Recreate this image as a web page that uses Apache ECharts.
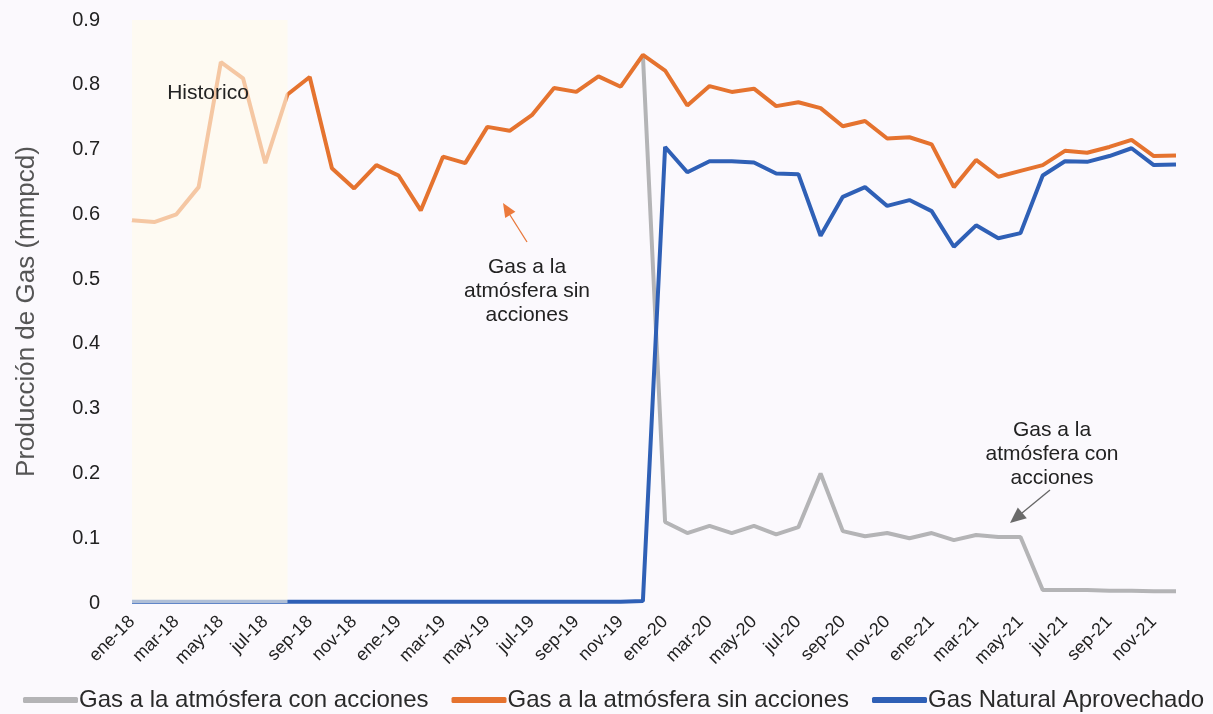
<!DOCTYPE html>
<html>
<head>
<meta charset="utf-8">
<script src="https://cdn.jsdelivr.net/npm/echarts@6/dist/echarts.min.js"></script>
<style>
html,body{margin:0;padding:0;background:#fbf9fd;}
#chart{width:1213px;height:714px;}
</style>
</head>
<body>
<div id="chart"></div>
<script>
var monthNames = ['ene','feb','mar','abr','may','jun','jul','ago','sep','oct','nov','dic'];
var years = ['18','19','20','21'];
var categories = [];
years.forEach(function(y){ monthNames.forEach(function(m){ categories.push(m + '-' + y); }); });

var yTicks = [0, 0.1, 0.2, 0.3, 0.4, 0.5, 0.6, 0.7, 0.8, 0.9];

var sinAcciones = [
  0.591, 0.588, 0.600, 0.642, 0.835, 0.810, 0.679, 0.785, 0.812, 0.671, 0.640, 0.676,
  0.660, 0.606, 0.689, 0.679, 0.735, 0.729, 0.753, 0.795, 0.789, 0.813, 0.797, 0.846,
  0.822, 0.768, 0.798, 0.789, 0.794, 0.767, 0.773, 0.764, 0.736, 0.744, 0.717, 0.719,
  0.708, 0.642, 0.684, 0.658, 0.667, 0.676, 0.698, 0.695, 0.704, 0.715, 0.690, 0.691
];
var aprovechado = [
  0.002, 0.002, 0.002, 0.002, 0.002, 0.002, 0.002, 0.002, 0.002, 0.002, 0.002, 0.002,
  0.002, 0.002, 0.002, 0.002, 0.002, 0.002, 0.002, 0.002, 0.002, 0.002, 0.002, 0.003,
  0.704, 0.665, 0.682, 0.682, 0.680, 0.663, 0.662, 0.567, 0.627, 0.642, 0.613, 0.622,
  0.605, 0.550, 0.583, 0.563, 0.571, 0.660, 0.682, 0.681, 0.690, 0.702, 0.676, 0.677
];
var conAcciones = [
  null, null, null, null, null, null, null, null, null, null, null, null,
  null, null, null, null, null, null, null, null, null, null, null, 0.846,
  0.125, 0.108, 0.119, 0.108, 0.119, 0.106, 0.117, 0.200, 0.111, 0.103, 0.108, 0.100,
  0.108, 0.097, 0.105, 0.102, 0.102, 0.020, 0.020, 0.020, 0.019, 0.019, 0.018, 0.018
];
var historicRange = ['ene-18', 'ago-18'];

var FONT = '"Liberation Sans", Arial, sans-serif';
var chart = echarts.init(document.getElementById('chart'));
chart.setOption({
  backgroundColor: '#fbf9fd',
  animation: false,
  textStyle: { fontFamily: FONT },
  grid: { left: 132, right: 37, top: 20, bottom: 111 },
  legend: {
    data: ['Gas a la atmósfera con acciones', 'Gas a la atmósfera sin acciones', 'Gas Natural Aprovechado'],
    left: 18, top: 683,
    icon: 'roundRect', itemWidth: 55, itemHeight: 6, itemGap: 23,
    textStyle: { fontSize: 24, color: '#2a2a2a', fontFamily: FONT, padding: [0,0,0,-4] }
  },
  xAxis: {
    type: 'category', data: categories, boundaryGap: false,
    axisLine: { show: false }, axisTick: { show: false },
    axisLabel: { interval: 1, rotate: 45, fontSize: 18, color: '#222', margin: 16, fontFamily: FONT }
  },
  yAxis: {
    type: 'value', min: 0, max: 0.9, interval: 0.1,
    splitLine: { show: false }, axisLine: { show: false }, axisTick: { show: false },
    axisLabel: { fontSize: 20, color: '#222', margin: 32, fontFamily: FONT,
      formatter: function(v){ return v === 0 ? '0' : v.toFixed(1); } },
    name: 'Producción de Gas (mmpcd)', nameLocation: 'middle', nameGap: 92,
    nameTextStyle: { fontSize: 26, color: '#555', fontFamily: FONT }
  },
  series: [
    { name: 'Gas a la atmósfera con acciones', type: 'line', data: conAcciones,
      showSymbol: false, lineStyle: { width: 4, color: '#b4b4b6' }, itemStyle: { color: '#b4b4b6' }, z: 2 },
    { name: 'Gas a la atmósfera sin acciones', type: 'line', data: sinAcciones,
      showSymbol: false, lineStyle: { width: 4, color: '#e5732f' }, itemStyle: { color: '#e5732f' }, z: 3 },
    { name: 'Gas Natural Aprovechado', type: 'line', data: aprovechado,
      showSymbol: false, lineStyle: { width: 4, color: '#2f60b6' }, itemStyle: { color: '#2f60b6' }, z: 4 },
    { name: 'historico', type: 'line', data: [], z: 10,
      markArea: { silent: true, z: 10,
        itemStyle: { color: 'rgba(255,250,236,0.62)' },
        data: [[{ xAxis: historicRange[0], yAxis: 0.9 }, { xAxis: historicRange[1], yAxis: 0 }]] } }
  ],
  graphic: [
    { type: 'text', x: 208, y: 93, z: 20, style: { text: 'Historico', fontSize: 21, fill: '#222', align: 'center', verticalAlign: 'middle', fontFamily: FONT } },
    { type: 'text', x: 527, y: 255, z: 20, style: { text: 'Gas a la\natmósfera sin\nacciones', fontSize: 21, lineHeight: 24, fill: '#222', align: 'center', fontFamily: FONT } },
    { type: 'line', z: 20, shape: { x1: 527, y1: 242, x2: 510, y2: 215 }, style: { stroke: '#e8773a', lineWidth: 1.3 } },
    { type: 'polygon', z: 20, shape: { points: [[503, 203], [515.4, 211.8], [505.2, 218.0]] }, style: { fill: '#ec7a3c' } },
    { type: 'text', x: 1052, y: 418, z: 20, style: { text: 'Gas a la\natmósfera con\nacciones', fontSize: 21, lineHeight: 24, fill: '#222', align: 'center', fontFamily: FONT } },
    { type: 'line', z: 20, shape: { x1: 1050, y1: 490, x2: 1022, y2: 513 }, style: { stroke: '#666', lineWidth: 1.3 } },
    { type: 'polygon', z: 20, shape: { points: [[1010, 523], [1026.8, 518.2], [1017.8, 507.4]] }, style: { fill: '#6a6a6a' } }
  ]
});
</script>
</body>
</html>
